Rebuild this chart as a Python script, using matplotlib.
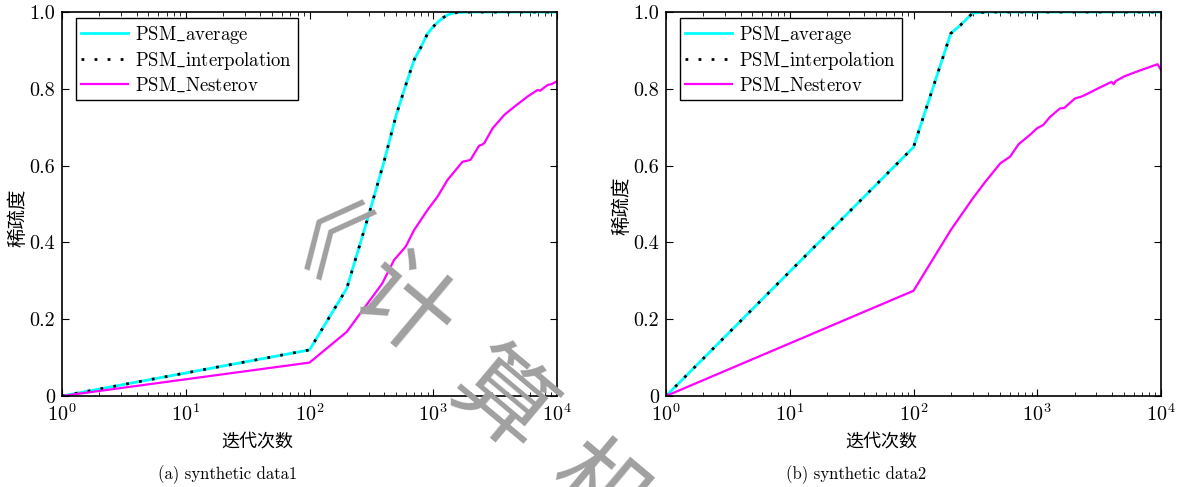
import numpy as np
import matplotlib
matplotlib.use('Agg')
import matplotlib.pyplot as plt

plt.rcParams['font.family'] = ['cmr10', 'Noto Sans CJK SC', 'DejaVu Sans']
plt.rcParams['mathtext.fontset'] = 'cm'
plt.rcParams['axes.formatter.use_mathtext'] = True

# (a) synthetic data1
x_avg_a = [1, 100, 200, 300, 400, 500, 600, 700, 800, 900, 1000, 1100, 1200,
           1300, 1400, 1500, 2000, 3000, 4000, 5000, 6000, 7000, 8000, 9000, 10000]
y_avg_a = [0, 0.12, 0.28, 0.47, 0.61, 0.73, 0.81, 0.875, 0.91, 0.944, 0.962, 0.975,
           0.985, 0.992, 0.996, 0.998, 1, 1, 1, 1, 1, 1, 1, 1, 1]
x_nes_a = [1, 100, 200, 387, 482, 599, 700, 897, 1082, 1303, 1723, 1900, 2000, 2349,
           2500, 2600, 3016, 3750, 4510, 5785, 6980, 7300, 8410, 9000, 9800, 10000]
y_nes_a = [0, 0.087, 0.167, 0.293, 0.354, 0.389, 0.432, 0.484, 0.519, 0.5625, 0.61,
           0.613, 0.615, 0.652, 0.655, 0.66, 0.697, 0.732, 0.753, 0.78, 0.797, 0.795,
           0.81, 0.812, 0.818, 0.82]

# (b) synthetic data2
x_avg_b = [1, 100, 200, 240, 300, 400, 500, 1000, 2000, 5000, 10000]
y_avg_b = [0, 0.648, 0.944, 0.966, 0.997, 1, 1, 1, 1, 1, 1]
x_nes_b = [1, 100, 200, 302, 381, 503, 602, 708, 873, 995, 1120, 1270, 1530, 1650,
           2020, 2290, 2580, 3100, 3980, 4150, 4300, 5100, 6930, 9380, 10000]
y_nes_b = [0, 0.274, 0.432, 0.515, 0.558, 0.606, 0.623, 0.656, 0.68, 0.697, 0.706,
           0.727, 0.749, 0.75, 0.775, 0.78, 0.788, 0.801, 0.818, 0.812, 0.82, 0.833,
           0.849, 0.864, 0.849]

labels = ['PSM$\\_$average', 'PSM$\\_$interpolation', 'PSM$\\_$Nesterov']

panels = [
    (x_avg_a, y_avg_a, x_nes_a, y_nes_a, '(a) synthetic data1', 218, 257, 228),
    (x_avg_b, y_avg_b, x_nes_b, y_nes_b, '(b) synthetic data2', 206, 881, 856),
]
lefts = [62, 666]
W, H = 1189, 487

fig = plt.figure(figsize=(W / 100, H / 100), dpi=100)
for (xa, ya, xn, yn, sub, ylab_y, xlab_x, sub_x), l in zip(panels, lefts):
    ax = fig.add_axes([l / W, 1 - 396 / H, 495 / W, 384 / H])
    ax.plot(xa, ya, color='cyan', lw=2, label=labels[0])
    ax.plot(xa, ya, color='black', lw=2, ls=(0, (1, 3.7)), label=labels[1])
    ax.plot(xn, yn, color='magenta', lw=1.6, label=labels[2])
    ax.set_xscale('log')
    ax.set_xlim(1, 10000)
    ax.set_ylim(0, 1)
    ax.set_yticks([0, 0.2, 0.4, 0.6, 0.8, 1.0])
    ax.set_yticklabels(['0', '0.2', '0.4', '0.6', '0.8', '1.0'])
    ax.tick_params(which='both', direction='in', top=True, right=True, labelsize=14.5, pad=5)
    ax.tick_params(which='major', length=5)
    ax.tick_params(which='minor', length=3)
    for s in ax.spines.values():
        s.set_linewidth(1.2)
    leg = ax.legend(loc='upper left', bbox_to_anchor=(0.028, 0.984), fontsize=13.5,
                    fancybox=False, framealpha=1, edgecolor='black', borderaxespad=0,
                    handlelength=2.5, handletextpad=0.35, labelspacing=0.22,
                    borderpad=0.3)
    leg.get_frame().set_linewidth(1.0)
    fig.text(xlab_x / W, 1 - 441 / H, '迭代次数', ha='center', va='center', fontsize=13)
    fig.text(sub_x / W, 1 - 475 / H, sub, ha='center', va='center', fontsize=12)
    fig.text((l - 44) / W, 1 - ylab_y / H, '稀疏度', ha='center', va='center',
             rotation=90, fontsize=14)

# watermark
wm = [('《', 296, 258), ('计', 402, 310), ('算', 500, 404), ('机', 598, 495)]
for ch, px, py in wm:
    fig.text(px / W, 1 - py / H, ch, ha='center', va='center', fontsize=70,
             rotation=-40, color='#a0a0a0', family='Noto Sans CJK SC', zorder=10)

plt.savefig('out.png', dpi=100)
